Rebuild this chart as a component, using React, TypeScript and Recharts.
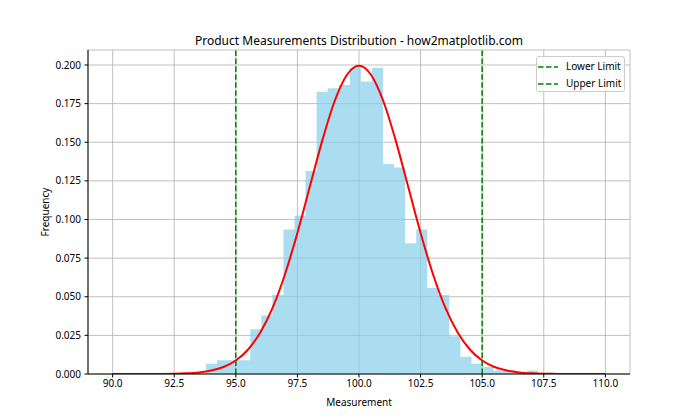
import React from 'react';
import {
  ComposedChart,
  Area,
  Line,
  XAxis,
  YAxis,
  CartesianGrid,
  ReferenceLine,
  Legend,
} from 'recharts';

const FONT = '"Noto Sans", "DejaVu Sans", sans-serif';

// Histogram bin edges (31 edges -> 30 bins)
const binEdges = [
  93.79, 94.239, 94.688, 95.137, 95.586, 96.035, 96.484, 96.933, 97.382, 97.831,
  98.28, 98.729, 99.178, 99.627, 100.076, 100.525, 100.974, 101.423, 101.872, 102.321,
  102.77, 103.219, 103.668, 104.117, 104.566, 105.015, 105.464, 105.913, 106.362, 106.811,
  107.26,
];

// Density height of each bin
const binDensity = [
  0.0067, 0.0089, 0.0089, 0.0089, 0.029, 0.0379, 0.0512, 0.0935, 0.1024, 0.1314,
  0.1826, 0.1849, 0.1871, 0.1982, 0.1893, 0.1982, 0.1359, 0.1336, 0.0846, 0.0935,
  0.0557, 0.0512, 0.0245, 0.0111, 0.0067, 0.0045, 0.0022, 0.0022, 0, 0.0022,
];

// Fitted curve points
const curveX = [
  90, 90.5, 91, 91.5, 92, 92.5, 93, 93.5, 94, 94.5, 95, 95.5, 96, 96.5, 97, 97.5, 98, 98.5, 99, 99.5,
  100, 100.5, 101, 101.5, 102, 102.5, 103, 103.5, 104, 104.5, 105, 105.5, 106, 106.5, 107, 107.5, 108,
  108.5, 109, 109.5, 110,
];
const curveY = [
  0.0, 0.0, 0.00001, 0.00002, 0.00007, 0.00018, 0.00044, 0.00101, 0.00222, 0.00455, 0.00876,
  0.01587, 0.027, 0.04314, 0.06476, 0.09132, 0.12099, 0.15057, 0.17603, 0.19333, 0.19947,
  0.19333, 0.17603, 0.15057, 0.12099, 0.09132, 0.06476, 0.04314, 0.027, 0.01587, 0.00876,
  0.00455, 0.00222, 0.00101, 0.00044, 0.00018, 0.00007, 0.00002, 0.00001, 0.0, 0.0,
];

const xTicks = [90, 92.5, 95, 97.5, 100, 102.5, 105, 107.5, 110];
const yTicks = [0, 0.025, 0.05, 0.075, 0.1, 0.125, 0.15, 0.175, 0.2];

const limitNames = ['Lower Limit', 'Upper Limit'];
const limitValues = [95, 105];

const histData = binEdges.map((e, i) => ({ x: e, d: i < binDensity.length ? binDensity[i] : 0 }));
const curveData = curveX.map((x, i) => ({ x, pdf: curveY[i] }));

const renderLegend = () => (
  <div
    style={{
      width: 89,
      height: 36,
      boxSizing: 'border-box',
      border: '1px solid #cccccc',
      borderRadius: 3,
      background: 'rgba(255,255,255,0.8)',
      fontSize: 10,
      fontFamily: FONT,
      paddingTop: 1,
      color: '#000',
    }}
  >
    {limitNames.map((name, i) => (
      <div key={name} style={{ display: 'flex', alignItems: 'center', height: 17 }}>
        <svg width={29} height={10} style={{ display: 'block' }}>
          <line x1={1} y1={5} x2={21} y2={5} stroke="green" strokeWidth={1.5} strokeDasharray="5.55 2.4" />
        </svg>
        <span style={{ lineHeight: '17px' }}>{name}</span>
      </div>
    ))}
  </div>
);

export default function App() {
  return (
    <div style={{ position: 'absolute', left: 0, top: 0, width: 700, height: 420, background: '#fff' }}>
      <div
        style={{
          position: 'absolute',
          left: 0,
          top: 32,
          width: 718,
          textAlign: 'center',
          fontFamily: FONT,
          fontSize: 12,
          color: '#000',
          lineHeight: '18px',
          zIndex: 2,
        }}
      >
        Product Measurements Distribution - how2matplotlib.com
      </div>
      <ComposedChart
        width={700}
        height={420}
        margin={{ top: 50, right: 70, bottom: 0, left: 0 }}
        style={{ fontFamily: FONT }}
      >
        <XAxis
          dataKey="x"
          type="number"
          domain={[89, 111]}
          allowDataOverflow
          ticks={xTicks}
          tickFormatter={(v: number) => v.toFixed(1)}
          height={46}
          tickSize={3.5}
          tickMargin={2}
          stroke="#000"
          tick={{ fill: '#000', fontSize: 10 }}
          label={{ value: 'Measurement', position: 'center', dy: 5, fill: '#000', fontSize: 10 }}
        />
        <YAxis
          type="number"
          domain={[0, 0.2097]}
          allowDataOverflow
          ticks={yTicks}
          tickFormatter={(v: number) => v.toFixed(3)}
          width={88}
          tickSize={3.5}
          tickMargin={3.5}
          stroke="#000"
          tick={{ fill: '#000', fontSize: 10 }}
          label={{ value: 'Frequency', position: 'center', angle: -90, dx: 1, fill: '#000', fontSize: 10 }}
        />
        <XAxis
          xAxisId="top"
          orientation="top"
          type="number"
          domain={[89, 111]}
          height={0}
          tick={false}
          tickLine={false}
          stroke="#000"
        />
        <YAxis
          yAxisId="right"
          orientation="right"
          type="number"
          domain={[0, 0.2097]}
          width={0}
          tick={false}
          tickLine={false}
          stroke="#000"
        />
        <Area
          data={histData}
          dataKey="d"
          type="stepAfter"
          fill="skyblue"
          fillOpacity={0.7}
          stroke="none"
          isAnimationActive={false}
          legendType="none"
        />
        <CartesianGrid stroke="#b0b0b0" strokeWidth={0.8} />
        <Line
          data={curveData}
          dataKey="pdf"
          type="monotone"
          stroke="red"
          strokeWidth={2}
          dot={false}
          activeDot={false}
          isAnimationActive={false}
          legendType="none"
        />
        {limitValues.map((v) => (
          <ReferenceLine key={v} x={v} stroke="green" strokeWidth={1.5} strokeDasharray="5.55 2.4" />
        ))}
        <Legend
          layout="vertical"
          align="center"
          verticalAlign="middle"
          content={renderLegend}
          wrapperStyle={{ left: 536, top: 56, width: 89 }}
        />
      </ComposedChart>
    </div>
  );
}
